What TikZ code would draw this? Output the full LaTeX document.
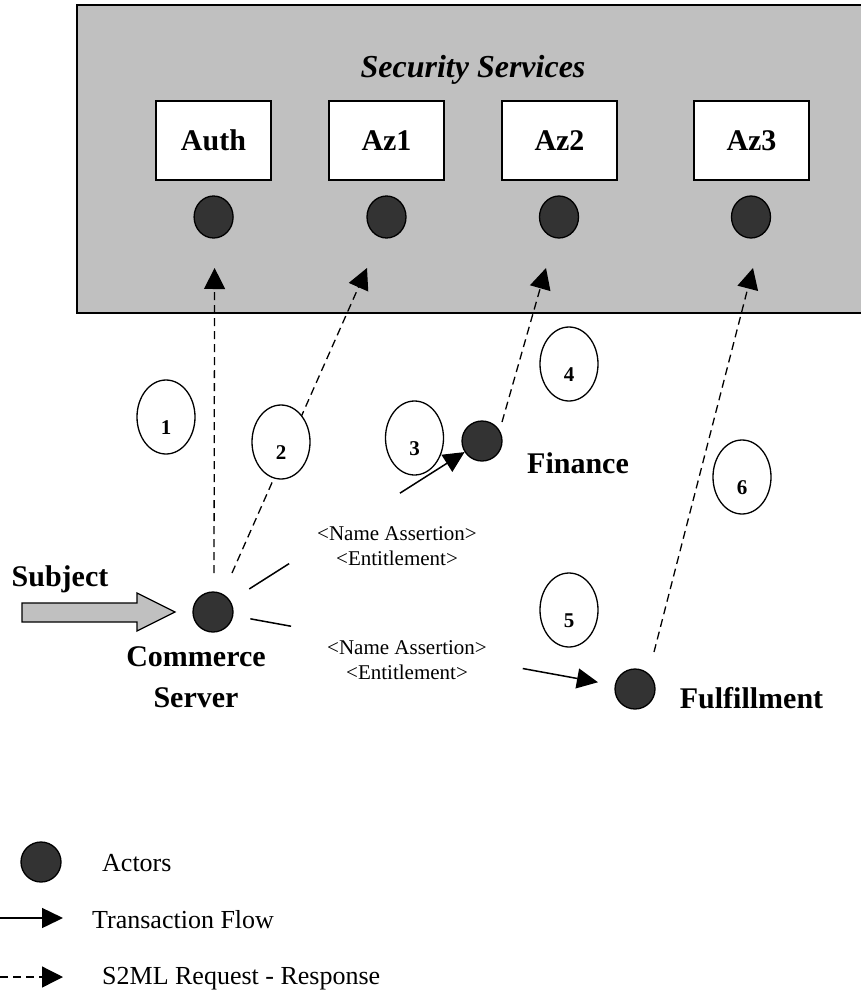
\documentclass[tikz,border=0pt]{standalone}
\usepackage{fontspec}
\setmainfont{Liberation Serif}
\usetikzlibrary{arrows.meta,calc,shapes.geometric}
\definecolor{boxgray}{HTML}{C0C0C0}
\definecolor{dotgray}{HTML}{333333}
\tikzset{
  dot/.style={circle, draw=black, fill=dotgray, line width=1.3pt, minimum size=40pt, inner sep=0pt},
  topdot/.style={ellipse, draw=black, fill=dotgray, line width=1.3pt, minimum width=39pt, minimum height=42pt, inner sep=0pt},
  svc/.style={rectangle, draw=black, fill=white, line width=1.4pt, minimum width=115pt, minimum height=79pt, inner sep=0pt, font=\fontsize{30}{36}\selectfont\bfseries},
  numel/.style={ellipse, draw=black, fill=white, line width=1.3pt, minimum width=58pt, minimum height=74pt, inner sep=0pt, text height=34pt, text depth=0pt, font=\fontsize{21}{24}\selectfont\bfseries},
  req/.style={line width=1.3pt, dash pattern=on 8pt off 5pt, -{Triangle[length=21pt,width=21pt]}},
  flow/.style={line width=1.5pt, -{Triangle[length=21pt,width=20pt]}},
  plain/.style={line width=1.5pt},
  biglabel/.style={font=\fontsize{30}{41}\selectfont\bfseries, align=center, inner sep=0pt},
  msg/.style={font=\fontsize{21}{24.5}\selectfont, align=center, inner sep=0pt},
  legtext/.style={font=\fontsize{26}{30}\selectfont, anchor=west, inner sep=0pt},
}
\begin{document}
\begin{tikzpicture}[x=1pt, y=-1pt]
\useasboundingbox (0,0) rectangle (860,996);
% security services container
\draw[fill=boxgray, line width=1.4pt] (77,5) rectangle (866,313);
\node[font=\fontsize{32}{38}\selectfont\bfseries\itshape] (title) at (473,70) {Security Services};
% services
\node[svc] (auth) at (213.5,140.5) {Auth};
\node[svc] (az1) at (386.5,140.5) {Az1};
\node[svc] (az2) at (559.5,140.5) {Az2};
\node[svc] (az3) at (751.5,140.5) {Az3};
\node[topdot] (authd) at (213.6,217) {};
\node[topdot] (az1d) at (386.5,217) {};
\node[topdot] (az2d) at (559,217) {};
\node[topdot] (az3d) at (751,217) {};
% actors
\node[dot] (cs) at (213,612) {};
\node[dot] (fin) at (482,441) {};
\node[dot] (ful) at (635,689) {};
\node[biglabel] (cslab) at (196,677) {Commerce\\Server};
\node[biglabel] (finlab) at (578,463) {Finance};
\node[biglabel] (fullab) at (751.5,698) {Fulfillment};
\node[biglabel] (subj) at (60,579) {Subject};
% subject block arrow
\draw[fill=boxgray, line width=1.3pt] (22,603) -- (137,603) -- (137,593) -- (175,612) -- (137,631) -- (137,622) -- (22,622) -- cycle;
% S2ML request-response arrows
\draw[req] ($(cs)+(1,-39)$) -- ($(authd)+(1,51)$);
\draw[req] ($(cs)+(19,-39)$) -- ($(az1d)+(-19.5,51)$);
\draw[req] ($(fin)+(20,-19)$) -- ($(az2d)+(-13,51)$);
\draw[req] ($(ful)+(19,-37)$) -- ($(az3d)+(2,51)$);
% transaction flows
\draw[plain] ($(cs)!43pt!(fin)$) -- ($(cs)!0.283!(fin)$);
\draw[flow] ($(cs)!0.695!(fin)$) -- (fin);
\draw[plain] ($(cs)!38pt!(ful)$) -- ($(cs)!0.185!(ful)$);
\draw[flow, shorten >=17pt] ($(cs)!0.734!(ful)$) -- (ful);
\node[msg] (m1) at (397,546) {<Name Assertion>\\<Entitlement>};
\node[msg] (m2) at (407,660) {<Name Assertion>\\<Entitlement>};
% step numbers
\node[numel] (n1) at (166,417) {1};
\node[numel] (n2) at (281,442) {2};
\node[numel] (n3) at (414.5,438) {3};
\node[numel] (n4) at (569,364) {4};
\node[numel] (n5) at (569,610) {5};
\node[numel] (n6) at (742,477) {6};
% legend
\node[dot] (legdot) at (41,862) {};
\node[legtext] (legact) at (102,863) {Actors};
\coordinate (lfs) at (0,918);
\coordinate (lfe) at (63,918);
\draw[flow] (lfs) -- (lfe);
\node[legtext] (legflow) at (92,920) {Transaction Flow};
\coordinate (lrs) at (0,977);
\coordinate (lre) at (63,977);
\draw[req] (lrs) -- (lre);
\node[legtext] (legreq) at (102,979) {S2ML Request - Response};
\end{tikzpicture}
\end{document}
